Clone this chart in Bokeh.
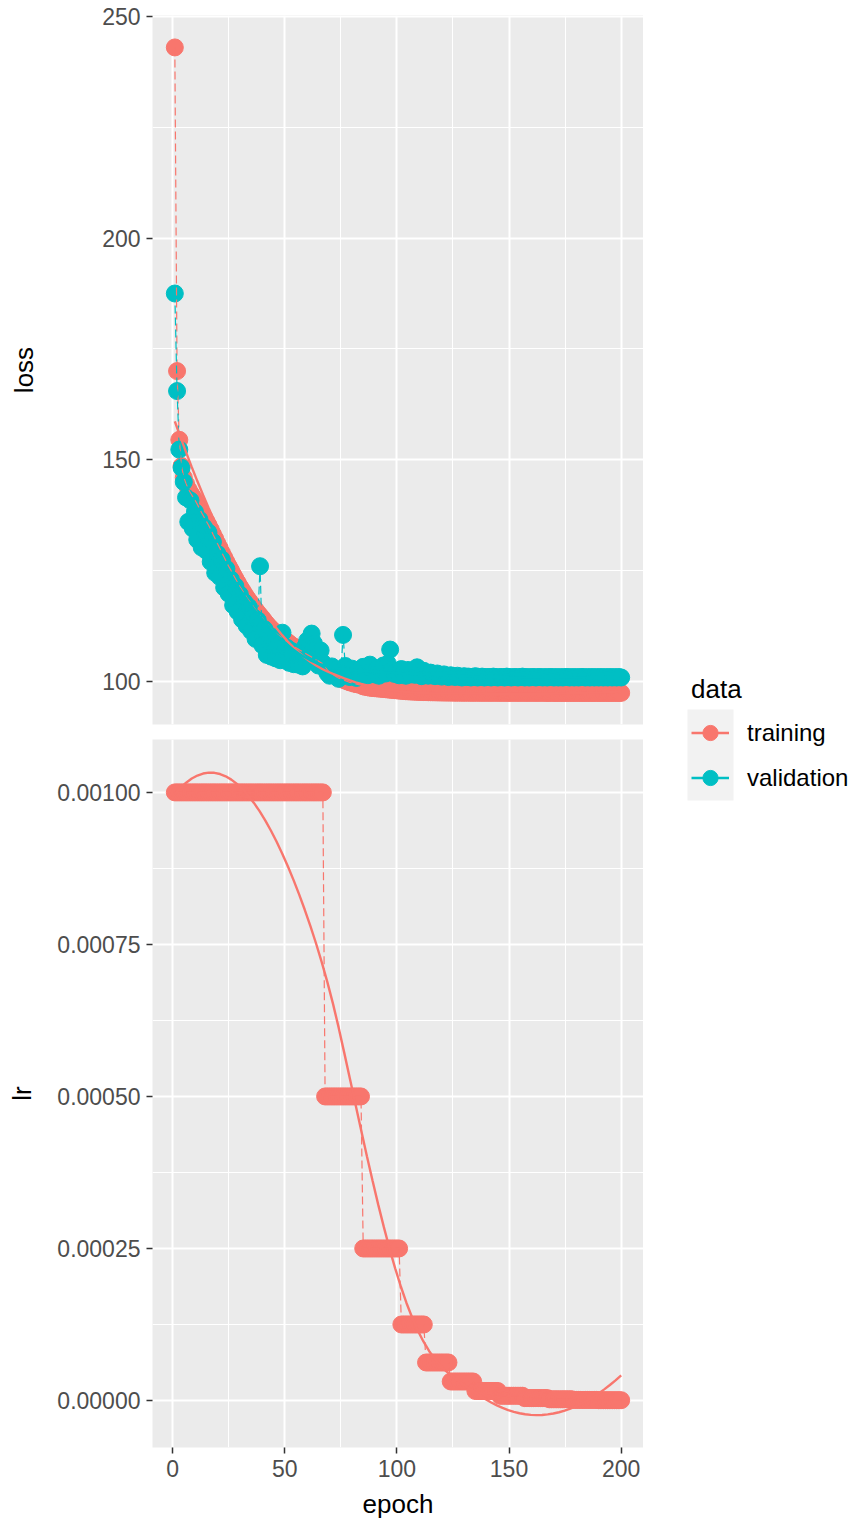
import numpy as np
from bokeh.plotting import figure
from bokeh.models import Range1d, FixedTicker, PrintfTickFormatter, Legend, LegendItem
from bokeh.layouts import row, column
from bokeh.embed import file_html
from bokeh.resources import INLINE

# ---------------- data ----------------
epochs = list(range(1, 201))

train_loss = [
    243.0, 170.0, 154.5, 148.6, 146.0, 144.6, 143.4, 142.5, 141.7, 140.9,
    140.0, 139.0, 138.0, 137.1, 136.2, 135.3, 134.3, 133.2, 132.2, 131.1,
    130.1, 129.0, 128.0, 127.0, 126.0, 125.1, 124.1, 123.2, 122.3, 121.4,
    120.6, 119.8, 119.0, 118.3, 117.6, 116.9, 116.2, 115.5, 114.9, 114.3,
    113.6, 113.0, 112.4, 111.9, 111.4, 110.9, 110.5, 110.1, 109.7, 109.3,
    109.0, 108.6, 108.2, 107.9, 107.6, 107.3, 107.0, 106.7, 106.4, 106.1,
    105.8, 105.5, 105.2, 104.9, 104.6, 104.3, 104.0, 103.2, 102.6, 102.1,
    101.7, 101.4, 101.1, 100.8, 100.6, 100.4, 100.2, 100.0, 99.8, 99.7,
    99.5, 99.4, 99.3, 99.2, 98.9, 98.8, 98.7, 98.6, 98.55, 98.5,
    98.45, 98.4, 98.35, 98.3, 98.25, 98.2, 98.15, 98.1, 98.05, 98.0,
    97.95, 97.9, 97.85, 97.8, 97.78, 97.75, 97.72, 97.7, 97.68, 97.65,
    97.63, 97.61, 97.6, 97.58, 97.57, 97.56, 97.55, 97.54, 97.53, 97.52,
    97.51, 97.5, 97.5, 97.49, 97.49, 97.48, 97.48, 97.48, 97.47, 97.47,
    97.47, 97.47, 97.46, 97.46, 97.46, 97.46, 97.46, 97.45, 97.45, 97.45,
    97.45, 97.45, 97.45, 97.45, 97.45, 97.44, 97.44, 97.44, 97.44, 97.44,
    97.44, 97.44, 97.44, 97.44, 97.44, 97.44, 97.44, 97.44, 97.44, 97.44,
    97.44, 97.44, 97.44, 97.44, 97.44, 97.44, 97.43, 97.43, 97.43, 97.43,
    97.43, 97.43, 97.43, 97.43, 97.43, 97.43, 97.43, 97.43, 97.43, 97.43,
    97.43, 97.43, 97.43, 97.43, 97.43, 97.43, 97.43, 97.43, 97.43, 97.43,
    97.43, 97.43, 97.43, 97.43, 97.43, 97.43, 97.43, 97.43, 97.43, 97.43,
]

val_loss = [
    187.5, 165.5, 152.3, 148.2, 145.0, 141.5, 136.0, 140.8, 134.5, 138.2,
    132.0, 136.5, 130.2, 134.8, 129.5, 133.6, 127.0, 131.5, 124.5, 128.8,
    123.6, 127.5, 121.2, 125.4, 119.8, 123.0, 117.2, 121.5, 115.8, 119.6,
    114.0, 117.9, 112.6, 116.8, 111.4, 114.5, 109.6, 113.8, 126.0, 108.2,
    111.8, 106.0, 110.4, 105.6, 108.9, 105.2, 108.0, 104.8, 111.0, 104.9,
    107.6, 104.2, 106.9, 103.9, 106.3, 103.8, 105.6, 103.4, 107.8, 109.2,
    108.0, 110.8, 108.6, 105.4, 103.6, 107.0, 104.2, 102.9, 101.9, 101.3,
    103.4, 101.6, 102.7, 100.6, 101.3, 110.5, 103.5, 102.2, 101.0, 102.9,
    101.5, 100.8, 102.4, 101.2, 103.3, 102.0, 101.4, 103.8, 102.5, 101.6,
    102.9, 101.3, 102.1, 103.6, 101.8, 104.0, 107.2, 102.6, 101.7, 102.3,
    101.4, 102.8, 101.9, 101.3, 102.6, 101.6, 102.2, 101.5, 103.2, 101.8,
    101.2, 102.4, 101.6, 101.3, 102.0, 101.5, 101.2, 101.8, 101.4, 101.1,
    101.6, 101.3, 101.0, 101.4, 101.2, 101.0, 101.3, 101.1, 100.9, 101.2,
    101.0, 101.1, 100.9, 101.0, 101.2, 100.9, 101.0, 101.1, 100.9, 101.0,
    101.0, 100.9, 101.1, 101.0, 100.9, 101.0, 101.0, 100.9, 101.1, 101.0,
    100.9, 101.0, 101.0, 100.9, 101.0, 101.1, 100.9, 101.0, 100.9, 101.0,
    101.0, 100.9, 101.0, 101.0, 100.9, 101.0, 100.9, 101.0, 101.0, 100.9,
    101.0, 100.9, 101.0, 100.9, 101.0, 101.0, 100.9, 101.0, 100.9, 101.0,
    100.9, 101.0, 101.0, 100.9, 101.0, 100.9, 101.0, 100.9, 101.0, 100.9,
    101.0, 100.9, 101.0, 100.9, 101.0, 100.9, 101.0, 100.9, 101.0, 100.9,
]

train_lr = [
    1e-3, 1e-3, 1e-3, 1e-3, 1e-3, 1e-3, 1e-3, 1e-3, 1e-3, 1e-3,
    1e-3, 1e-3, 1e-3, 1e-3, 1e-3, 1e-3, 1e-3, 1e-3, 1e-3, 1e-3,
    1e-3, 1e-3, 1e-3, 1e-3, 1e-3, 1e-3, 1e-3, 1e-3, 1e-3, 1e-3,
    1e-3, 1e-3, 1e-3, 1e-3, 1e-3, 1e-3, 1e-3, 1e-3, 1e-3, 1e-3,
    1e-3, 1e-3, 1e-3, 1e-3, 1e-3, 1e-3, 1e-3, 1e-3, 1e-3, 1e-3,
    1e-3, 1e-3, 1e-3, 1e-3, 1e-3, 1e-3, 1e-3, 1e-3, 1e-3, 1e-3,
    1e-3, 1e-3, 1e-3, 1e-3, 1e-3, 1e-3, 1e-3, 5e-4, 5e-4, 5e-4,
    5e-4, 5e-4, 5e-4, 5e-4, 5e-4, 5e-4, 5e-4, 5e-4, 5e-4, 5e-4,
    5e-4, 5e-4, 5e-4, 5e-4, 2.5e-4, 2.5e-4, 2.5e-4, 2.5e-4, 2.5e-4, 2.5e-4,
    2.5e-4, 2.5e-4, 2.5e-4, 2.5e-4, 2.5e-4, 2.5e-4, 2.5e-4, 2.5e-4, 2.5e-4, 2.5e-4,
    2.5e-4, 1.25e-4, 1.25e-4, 1.25e-4, 1.25e-4, 1.25e-4, 1.25e-4, 1.25e-4, 1.25e-4, 1.25e-4,
    1.25e-4, 1.25e-4, 6.25e-5, 6.25e-5, 6.25e-5, 6.25e-5, 6.25e-5, 6.25e-5, 6.25e-5, 6.25e-5,
    6.25e-5, 6.25e-5, 6.25e-5, 3.125e-5, 3.125e-5, 3.125e-5, 3.125e-5, 3.125e-5, 3.125e-5, 3.125e-5,
    3.125e-5, 3.125e-5, 3.125e-5, 3.125e-5, 1.5625e-5, 1.5625e-5, 1.5625e-5, 1.5625e-5, 1.5625e-5, 1.5625e-5,
    1.5625e-5, 1.5625e-5, 1.5625e-5, 1.5625e-5, 1.5625e-5, 7.8125e-6, 7.8125e-6, 7.8125e-6, 7.8125e-6, 7.8125e-6,
    7.8125e-6, 7.8125e-6, 7.8125e-6, 7.8125e-6, 7.8125e-6, 7.8125e-6, 3.90625e-6, 3.90625e-6, 3.90625e-6, 3.90625e-6,
    3.90625e-6, 3.90625e-6, 3.90625e-6, 3.90625e-6, 3.90625e-6, 3.90625e-6, 3.90625e-6, 1.953125e-6, 1.953125e-6, 1.953125e-6,
    1.953125e-6, 1.953125e-6, 1.953125e-6, 1.953125e-6, 1.953125e-6, 1.953125e-6, 1.953125e-6, 1.953125e-6, 9.765625e-7, 9.765625e-7,
    9.765625e-7, 9.765625e-7, 9.765625e-7, 9.765625e-7, 9.765625e-7, 9.765625e-7, 9.765625e-7, 9.765625e-7, 9.765625e-7, 4.8828125e-7,
    4.8828125e-7, 4.8828125e-7, 4.8828125e-7, 4.8828125e-7, 4.8828125e-7, 4.8828125e-7, 4.8828125e-7, 4.8828125e-7, 4.8828125e-7, 4.8828125e-7,
]

series_names = ["training", "validation"]
x_ticks = [0, 50, 100, 150, 200]
x_minor = [25, 75, 125, 175]
loss_ticks = [100, 150, 200, 250]
loss_minor = [125, 175, 225]
lr_ticks = [0.0, 0.00025, 0.0005, 0.00075, 0.001]
lr_minor = [0.000125, 0.000375, 0.000625, 0.000875]

TRAIN = "#F8766D"
VAL = "#00BFC4"
FONT = "Liberation Sans"
PANEL_BG = "#EBEBEB"


def loess(x, y, span=0.75, n_out=80):
    """Local quadratic regression with tricube weights (ggplot2 geom_smooth default)."""
    x = np.asarray(x, float)
    y = np.asarray(y, float)
    n = len(x)
    q = int(np.floor(n * span))
    xs = np.linspace(x.min(), x.max(), n_out)
    ys = []
    for x0 in xs:
        d = np.abs(x - x0)
        h = np.sort(d)[q - 1] * 1.0000001
        u = np.clip(d / h, 0, 1)
        w = (1 - u ** 3) ** 3
        X = np.vstack([np.ones(n), x - x0, (x - x0) ** 2]).T
        sw = np.sqrt(w)
        beta = np.linalg.lstsq(X * sw[:, None], y * sw, rcond=None)[0]
        ys.append(beta[0])
    return xs, np.array(ys)


def style_axes(p, yticks, yminor):
    p.xgrid.ticker = FixedTicker(ticks=x_ticks, minor_ticks=x_minor)
    p.ygrid.ticker = FixedTicker(ticks=yticks, minor_ticks=yminor)
    for g in (p.xgrid, p.ygrid):
        g.grid_line_color = "white"
        g.grid_line_width = 2
        g.minor_grid_line_color = "white"
        g.minor_grid_line_width = 1
    for ax in list(p.xaxis) + list(p.yaxis):
        ax.axis_line_color = None
        ax.major_tick_line_color = "#333333"
        ax.major_tick_line_width = 1.5
        ax.major_tick_out = 6
        ax.major_tick_in = 0
        ax.minor_tick_line_color = None
        ax.major_label_standoff = 6
        ax.major_label_text_font = FONT
        ax.major_label_text_font_size = "23px"
        ax.major_label_text_color = "#4D4D4D"
        ax.axis_label_text_font = FONT
        ax.axis_label_text_font_size = "26px"
        ax.axis_label_text_font_style = "normal"
        ax.axis_label_text_color = "black"
    p.yaxis.ticker = FixedTicker(ticks=yticks)


x_range = Range1d(-8.95, 209.95)

# ---------------- loss panel ----------------
p1 = figure(frame_width=491, frame_height=709, x_range=x_range,
            y_range=Range1d(90.3, 250.2), x_axis_location=None,
            min_border_left=152, min_border_right=0, min_border_top=15, min_border_bottom=15,
            output_backend="svg", toolbar_location=None,
            background_fill_color=PANEL_BG, border_fill_color="white",
            outline_line_color=None)
style_axes(p1, loss_ticks, loss_minor)
p1.yaxis.axis_label = "loss"
p1.yaxis.axis_label_standoff = 60

p1.scatter(epochs, train_loss, size=17, color=TRAIN)
p1.scatter(epochs, val_loss, size=17, color=VAL)
p1.line(epochs, train_loss, line_color=TRAIN, line_width=1.2, line_dash="8 4")
p1.line(epochs, val_loss, line_color=VAL, line_width=1.2, line_dash="8 4")
sx, sy = loess(epochs, train_loss)
p1.line(sx, sy, line_color=TRAIN, line_width=2.4)
sx, sy = loess(epochs, val_loss)
p1.line(sx, sy, line_color=VAL, line_width=2.4)

# ---------------- lr panel ----------------
p2 = figure(frame_width=491, frame_height=708, x_range=x_range,
            y_range=Range1d(-0.0000773, 0.001087),
            min_border_left=152, min_border_right=0, min_border_top=0, min_border_bottom=83,
            output_backend="svg", toolbar_location=None,
            background_fill_color=PANEL_BG, border_fill_color="white",
            outline_line_color=None)
style_axes(p2, lr_ticks, lr_minor)
p2.xaxis.ticker = FixedTicker(ticks=x_ticks)
p2.xaxis.axis_label = "epoch"
p2.xaxis.axis_label_standoff = 9
p2.yaxis.axis_label = "lr"
p2.yaxis.axis_label_standoff = 17
p2.yaxis.formatter = PrintfTickFormatter(format="%.5f")

p2.scatter(epochs, train_lr, size=17, color=TRAIN)
p2.line(epochs, train_lr, line_color=TRAIN, line_width=1.2, line_dash="8 4")
sx, sy = loess(epochs, train_lr)
p2.line(sx, sy, line_color=TRAIN, line_width=2.4)

# ---------------- legend column ----------------
pl = figure(width=214, height=1530, x_range=Range1d(0, 214), y_range=Range1d(0, 1530),
            min_border=0, x_axis_location=None, y_axis_location=None,
            output_backend="svg", toolbar_location=None,
            background_fill_color="white", border_fill_color="white",
            outline_line_color=None)
pl.xgrid.visible = False
pl.ygrid.visible = False
# legend key background (grey95)
pl.quad(left=44, right=90, bottom=730, top=821, fill_color="#F2F2F2", line_color=None)

nan = float("nan")
lt = pl.line(x=[nan, nan], y=[nan, nan], line_color=TRAIN, line_width=2.5)
st = pl.scatter(x=[nan], y=[nan], size=15, color=TRAIN)
lv = pl.line(x=[nan, nan], y=[nan, nan], line_color=VAL, line_width=2.5)
sv = pl.scatter(x=[nan], y=[nan], size=15, color=VAL)

legend = Legend(
    items=[LegendItem(label=series_names[0], renderers=[lt, st]),
           LegendItem(label=series_names[1], renderers=[lv, sv])],
    location=(48, 730), title="data", orientation="vertical",
    glyph_width=38, glyph_height=45, spacing=0, padding=0, margin=0,
    label_standoff=18, label_height=45,
    background_fill_alpha=0, border_line_color=None,
    label_text_font=FONT, label_text_font_size="24px", label_text_color="black",
    title_text_font=FONT, title_text_font_size="26px", title_text_font_style="normal",
    title_text_color="black", title_standoff=5,
)
pl.add_layout(legend, "center")

layout = row(column(p1, p2), pl)
open("out.html", "w").write(file_html(layout, INLINE))
